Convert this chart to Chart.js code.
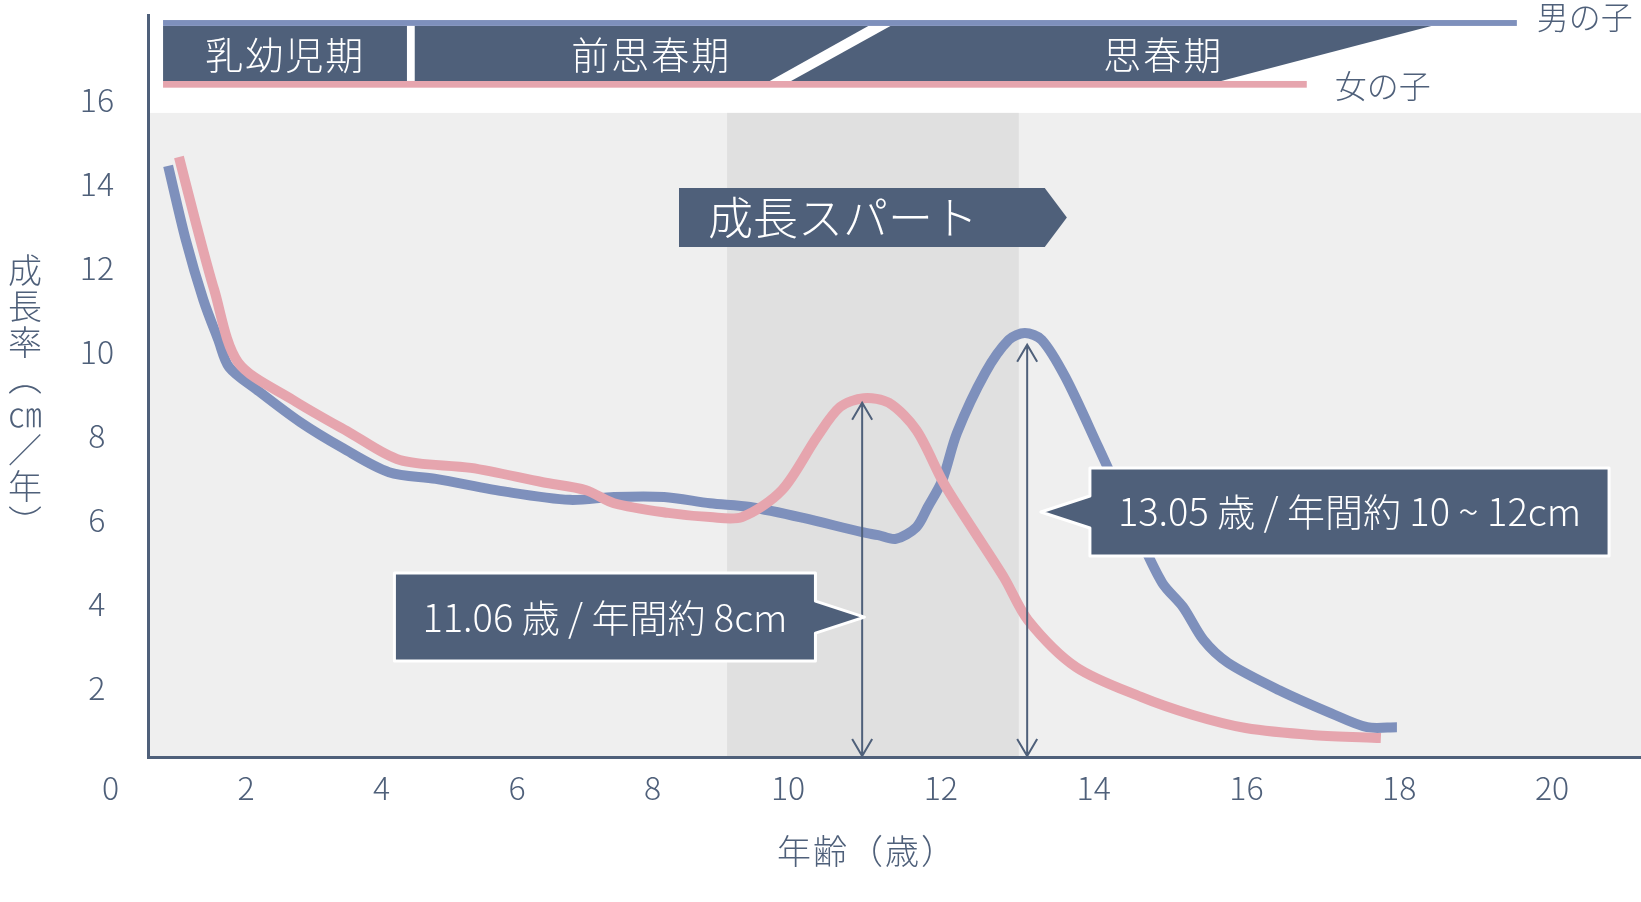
<!DOCTYPE html>
<html lang="ja">
<head>
<meta charset="utf-8">
<title>成長率</title>
<script src="https://cdn.jsdelivr.net/npm/chart.js@4.4.1/dist/chart.umd.min.js"></script>
<style>
html, body { margin: 0; padding: 0; background: #fff; }
#wrap { position: relative; width: 1641px; height: 902px; }
</style>
</head>
<body>
<div id="wrap"><canvas id="growth-chart"></canvas></div>
<script>
// 目盛り
const ageTicks = [0, 2, 4, 6, 8, 10, 12, 14, 16, 18, 20];
const rateTicks = [2, 4, 6, 8, 10, 12, 14, 16];

// 男の子 (年齢, cm/年)
const boysAge = [0.85, 1.11, 1.37, 1.59, 1.75, 2.16, 2.80, 3.43, 4.11, 4.80, 5.85, 6.78, 7.43, 8.17, 8.85, 9.44,
  10.20, 10.97, 11.18, 11.41, 11.68, 11.83, 12.02, 12.21, 12.58, 12.89, 13.10, 13.32, 13.63, 14.06, 14.60,
  14.90, 15.17, 15.44, 15.76, 16.43, 17.11, 17.58, 17.97];
const boysRate = [14.43, 12.67, 11.24, 10.29, 9.64, 9.10, 8.33, 7.71, 7.14, 6.98, 6.67, 6.48, 6.55, 6.55, 6.40, 6.31,
  6.05, 5.71, 5.64, 5.55, 5.83, 6.31, 6.95, 8.07, 9.50, 10.29, 10.45, 10.29, 9.40, 7.74, 5.60,
  4.50, 3.93, 3.14, 2.60, 1.95, 1.40, 1.07, 1.07];

// 女の子
const girlsAge = [1.01, 1.26, 1.53, 1.88, 2.69, 3.54, 4.27, 5.32, 6.38, 7.02, 7.43, 8.23, 8.85, 9.32, 9.91,
  10.38, 10.68, 10.99, 11.32, 11.68, 12.04, 12.43, 12.83, 13.14, 13.77, 14.62, 15.30, 15.99, 16.89, 17.76];
const girlsRate = [14.64, 13.07, 11.48, 9.76, 8.86, 8.07, 7.43, 7.24, 6.90, 6.71, 6.40, 6.17, 6.07, 6.07, 6.71,
  7.98, 8.69, 8.90, 8.79, 8.14, 6.87, 5.75, 4.62, 3.62, 2.50, 1.79, 1.36, 1.05, 0.88, 0.81];

// 時期の帯
const stageNames = ['乳幼児期', '前思春期', '思春期'];
const stageCenters = [2.58, 7.98, 14.91];
const spurtRange = [9.1, 13.02];

// ピークの矢印と吹き出し
const peakAges = [10.97, 13.13];
const peakTops = [8.79, 10.17];
const calloutAges = [11.0, 13.31];
const calloutRates = [3.69, 6.19];
const calloutTexts = ['11.06 歳 / 年間約 8cm', '13.05 歳 / 年間約 10 ~ 12cm'];
const calloutSides = ['left', 'right'];

const slate = '#4f607a';
const boyColor = '#7e90bc';
const girlColor = '#e6a5ae';
const FONT = '"Noto Sans CJK JP", "Noto Sans", sans-serif';

// 10歳を境に横軸の目盛り間隔が変わる
const X_BREAK = 10;
const X_BREAK_POS = 0.4287;
class AgeScale extends Chart.LinearScale {
  getPixelForValue(value) {
    let d;
    if (value <= X_BREAK) d = (value - this.min) / (X_BREAK - this.min) * X_BREAK_POS;
    else d = X_BREAK_POS + (value - X_BREAK) / (this.max - X_BREAK) * (1 - X_BREAK_POS);
    return this.getPixelForDecimal(d);
  }
  getValueForPixel(pixel) {
    const d = this.getDecimalForPixel(pixel);
    if (d <= X_BREAK_POS) return this.min + d / X_BREAK_POS * (X_BREAK - this.min);
    return X_BREAK + (d - X_BREAK_POS) / (1 - X_BREAK_POS) * (this.max - X_BREAK);
  }
}
AgeScale.id = 'age';
AgeScale.defaults = Chart.LinearScale.defaults;
Chart.register(AgeScale);

function drawArrow(ctx, x, top, bottom) {
  ctx.save();
  ctx.strokeStyle = slate;
  ctx.lineWidth = 2;
  ctx.beginPath();
  ctx.moveTo(x, top); ctx.lineTo(x, bottom);
  ctx.moveTo(x - 10, top + 17); ctx.lineTo(x, top); ctx.lineTo(x + 10, top + 17);
  ctx.moveTo(x - 10, bottom - 17); ctx.lineTo(x, bottom); ctx.lineTo(x + 10, bottom - 17);
  ctx.stroke();
  ctx.restore();
}

function drawCallout(ctx, tipX, tipY, text, side) {
  ctx.save();
  ctx.font = '300 38px ' + FONT;
  const w = ctx.measureText(text).width + 56;
  const h = 88, gap = 49, half = 16;
  let L, R;
  if (side === 'left') { R = tipX - gap; L = R - w; } else { L = tipX + gap; R = L + w; }
  const T = tipY - h / 2, B = tipY + h / 2;
  ctx.beginPath();
  ctx.moveTo(L, T); ctx.lineTo(R, T);
  if (side === 'left') { ctx.lineTo(R, tipY - half); ctx.lineTo(tipX, tipY); ctx.lineTo(R, tipY + half); }
  ctx.lineTo(R, B); ctx.lineTo(L, B);
  if (side === 'right') { ctx.lineTo(L, tipY + half); ctx.lineTo(tipX, tipY); ctx.lineTo(L, tipY - half); }
  ctx.closePath();
  ctx.fillStyle = slate;
  ctx.fill();
  ctx.lineWidth = 3;
  ctx.lineJoin = 'round';
  ctx.strokeStyle = '#fff';
  ctx.stroke();
  ctx.fillStyle = '#fff';
  ctx.textAlign = 'center';
  ctx.textBaseline = 'middle';
  ctx.fillText(text, (L + R) / 2, tipY);
  ctx.restore();
}

const decor = {
  id: 'decor',
  beforeDraw(chart) {
    const { ctx, chartArea: a, scales: { x, y } } = chart;
    ctx.save();
    const top = y.getPixelForValue(15.69);
    ctx.fillStyle = '#efefef';
    ctx.fillRect(a.left, top, a.right - a.left, a.bottom - top);
    const s0 = x.getPixelForValue(spurtRange[0]), s1 = x.getPixelForValue(spurtRange[1]);
    ctx.fillStyle = '#e0e0e0';
    ctx.fillRect(s0, top, s1 - s0, a.bottom - top);
    ctx.restore();
  },
  afterDatasetsDraw(chart) {
    const { ctx, chartArea: a, scales: { x, y } } = chart;
    peakAges.forEach((age, i) => drawArrow(ctx, x.getPixelForValue(age), y.getPixelForValue(peakTops[i]), a.bottom - 1));
    calloutAges.forEach((age, i) =>
      drawCallout(ctx, x.getPixelForValue(age), y.getPixelForValue(calloutRates[i]), calloutTexts[i], calloutSides[i]));

    // 成長スパート
    ctx.save();
    const L = x.getPixelForValue(8.39), R = x.getPixelForValue(13.36), tip = x.getPixelForValue(13.65);
    const T = y.getPixelForValue(13.9), B = y.getPixelForValue(12.5);
    ctx.beginPath();
    ctx.moveTo(L, T); ctx.lineTo(R, T); ctx.lineTo(tip, (T + B) / 2); ctx.lineTo(R, B); ctx.lineTo(L, B);
    ctx.closePath();
    ctx.fillStyle = slate;
    ctx.fill();
    ctx.fillStyle = '#fff';
    ctx.font = '300 45px ' + FONT;
    ctx.textAlign = 'left';
    ctx.textBaseline = 'middle';
    ctx.fillText('成長スパート', L + 29, (T + B) / 2);
    ctx.restore();
  },
  afterDraw(chart) {
    const { ctx, scales: { x, y } } = chart;
    ctx.save();
    const left = x.getPixelForValue(0.775);
    const boyEnd = x.getPixelForValue(19.54), girlEnd = x.getPixelForValue(16.79);
    const lineTop = y.getPixelForValue(17.9), bandTop = y.getPixelForValue(17.76);
    const bandBottom = y.getPixelForValue(16.45), pinkBottom = y.getPixelForValue(16.29);

    ctx.fillStyle = boyColor;
    ctx.fillRect(left, lineTop, boyEnd - left, bandTop - lineTop);
    ctx.fillStyle = girlColor;
    ctx.fillRect(left, bandBottom, girlEnd - left, pinkBottom - bandBottom);

    ctx.fillStyle = slate;
    ctx.beginPath();
    ctx.moveTo(left, bandTop);
    ctx.lineTo(x.getPixelForValue(18.42), bandTop);
    ctx.lineTo(x.getPixelForValue(15.67), bandBottom);
    ctx.lineTo(left, bandBottom);
    ctx.closePath();
    ctx.fill();

    ctx.fillStyle = '#fff';
    const sep0 = x.getPixelForValue(4.375), sep1 = x.getPixelForValue(4.49);
    ctx.fillRect(sep0, bandTop, sep1 - sep0, bandBottom - bandTop);
    ctx.beginPath();
    ctx.moveTo(x.getPixelForValue(9.73), bandBottom);
    ctx.lineTo(x.getPixelForValue(10.04), bandBottom);
    ctx.lineTo(x.getPixelForValue(11.34), bandTop);
    ctx.lineTo(x.getPixelForValue(11.05), bandTop);
    ctx.closePath();
    ctx.fill();

    ctx.font = '300 38px ' + FONT;
    ctx.letterSpacing = '2px';
    ctx.textAlign = 'center';
    ctx.textBaseline = 'middle';
    stageNames.forEach((name, i) => ctx.fillText(name, x.getPixelForValue(stageCenters[i]), (bandTop + bandBottom) / 2 + 1));

    ctx.fillStyle = slate;
    ctx.letterSpacing = '0px';
    ctx.font = '300 32px ' + FONT;
    ctx.textAlign = 'left';
    ctx.fillText('男の子', boyEnd + 20, (lineTop + bandTop) / 2 - 6);
    ctx.fillText('女の子', girlEnd + 28, (bandBottom + pinkBottom) / 2 + 2);

    // 軸タイトル
    ctx.font = '300 34px ' + FONT;
    ctx.textAlign = 'center';
    const yTitle = ['成', '長', '率', '︵', '㎝', '／', '年', '︶'];
    yTitle.forEach((ch, i) => ctx.fillText(ch, 25, 270 + i * 36));
    ctx.letterSpacing = '2px';
    ctx.fillText('年齢（歳）', 867, 851);
    ctx.restore();
  }
};

const tickFont = { family: FONT, size: 32, weight: '300' };

new Chart(document.getElementById('growth-chart'), {
  type: 'line',
  data: {
    datasets: [
      {
        label: '女の子',
        data: girlsAge.map((a, i) => ({ x: a, y: girlsRate[i] })),
        borderColor: girlColor,
        borderWidth: 10,
        pointRadius: 0,
        tension: 0.3,
        order: 0
      },
      {
        label: '男の子',
        data: boysAge.map((a, i) => ({ x: a, y: boysRate[i] })),
        borderColor: boyColor,
        borderWidth: 10,
        pointRadius: 0,
        tension: 0.3,
        order: 1
      }
    ]
  },
  options: {
    responsive: true,
    maintainAspectRatio: false,
    animation: false,
    layout: { padding: { top: 15, left: 0, right: 0, bottom: 0 } },
    plugins: { legend: { display: false }, tooltip: { enabled: false } },
    scales: {
      x: {
        type: 'age',
        min: 0.553,
        max: 21.165,
        afterBuildTicks: s => { s.ticks = ageTicks.map(v => ({ value: v })); },
        afterFit: s => { s.height = 145; s.paddingLeft = 0; s.paddingRight = 0; },
        grid: { display: false, drawTicks: false },
        border: { display: true, color: slate, width: 3 },
        ticks: { color: slate, font: tickFont, padding: 12, autoSkip: false, maxRotation: 0 }
      },
      y: {
        min: 0.36,
        max: 18.02,
        afterBuildTicks: s => { s.ticks = rateTicks.map(v => ({ value: v })); },
        afterFit: s => { s.width = 148; s.paddingTop = 0; s.paddingBottom = 0; },
        grid: { display: false, drawTicks: false },
        border: { display: true, color: slate, width: 3 },
        ticks: { color: slate, font: tickFont, padding: 34, crossAlign: 'center' }
      }
    }
  },
  plugins: [decor]
});
</script>
</body>
</html>
